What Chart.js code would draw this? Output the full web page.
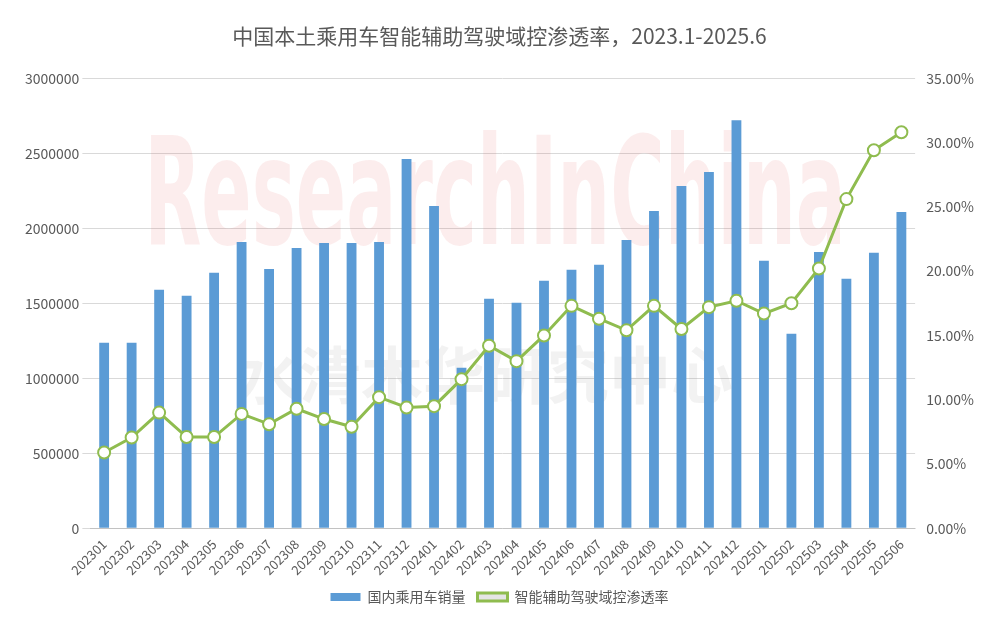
<!DOCTYPE html>
<html><head><meta charset="utf-8">
<script src="https://cdn.jsdelivr.net/npm/chart.js@4"></script>
<style>html,body{margin:0;background:#fff}#w{width:991px;height:639px}</style>
</head><body><div id="w"><canvas id="c"></canvas></div>
<script>
const categories=['202301','202302','202303','202304','202305','202306','202307','202308','202309','202310','202311','202312','202401','202402','202403','202404','202405','202406','202407','202408','202409','202410','202411','202412','202501','202502','202503','202504','202505','202506'];
const sales=[1237000,1237000,1590000,1550000,1703000,1909000,1729000,1869000,1902000,1902000,1909000,2461000,2148000,1071000,1530000,1503000,1650000,1723000,1756000,1922000,2115000,2282000,2375000,2720000,1783000,1297000,1842000,1663000,1836000,2109000];
const penetration=[5.9,7.06,9.0,7.1,7.1,8.9,8.1,9.3,8.5,7.9,10.2,9.4,9.5,11.6,14.2,13.0,15.0,17.3,16.3,15.4,17.3,15.5,17.2,17.7,16.7,17.5,20.2,25.6,29.4,30.8];
const F='"Noto Sans CJK SC","Noto Sans",sans-serif';
const wm={id:'wm',beforeDatasetsDraw(ch){const c=ch.ctx;c.save();
c.fillStyle='rgba(230,80,80,0.10)';c.font='bold 150px "Liberation Sans Narrow","DejaVu Sans Condensed",sans-serif';c.textBaseline='middle';c.textAlign='center';
c.save();c.translate(495,205);c.scale(0.55,1);c.fillText('ResearchInChina',0,0);c.restore();
c.fillStyle='rgba(150,150,150,0.12)';c.font='bold 62px '+F;c.fillText('水清木华研究中心',485,375);c.restore();}};
new Chart(document.getElementById('c'),{data:{labels:categories,datasets:[
{type:'line',label:'智能辅助驾驶域控渗透率',data:penetration,yAxisID:'y1',borderColor:'#8fbc4f',borderWidth:3,pointRadius:6,pointBackgroundColor:'#fff',pointBorderColor:'#8fbc4f',pointBorderWidth:2,tension:0},
{type:'bar',label:'国内乘用车销量',data:sales,yAxisID:'y',backgroundColor:'#5b9bd5',categoryPercentage:0.65,barPercentage:0.55}]},
options:{responsive:true,maintainAspectRatio:false,animation:false,
layout:{padding:{left:22,right:14,top:5,bottom:25}},
plugins:{title:{display:true,text:'中国本土乘用车智能辅助驾驶域控渗透率，2023.1-2025.6',color:'#595959',font:{family:F,size:21,weight:'normal'},padding:{top:18,bottom:30}},
legend:{position:'bottom',reverse:true,labels:{color:'#595959',font:{family:F,size:14},boxWidth:30,boxHeight:8,padding:12}},tooltip:{enabled:false}},
scales:{x:{grid:{display:false},ticks:{color:'#595959',font:{family:F,size:13},maxRotation:45,minRotation:45,autoSkip:false,padding:0}},
y:{min:0,max:3000000,ticks:{stepSize:500000,color:'#595959',font:{family:F,size:14},callback:v=>String(v)},grid:{color:'#d9d9d9'},border:{display:false}},
y1:{position:'right',min:0,max:35,ticks:{stepSize:5,color:'#595959',font:{family:F,size:14},callback:v=>v.toFixed(2)+'%'},grid:{display:false},border:{display:false}}}},
plugins:[wm]});
</script></body></html>
